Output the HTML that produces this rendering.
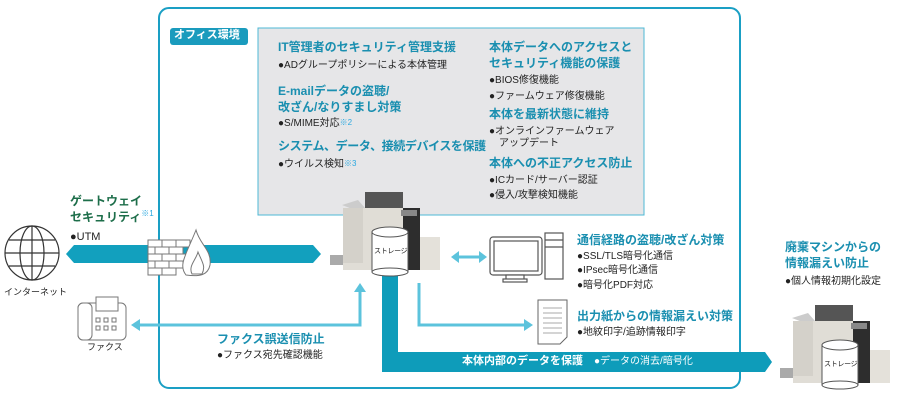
<!DOCTYPE html>
<html><head><meta charset="utf-8"><style>
body{margin:0;width:900px;height:400px;background:#fff;position:relative;overflow:hidden;font-family:"Liberation Sans","Noto Sans CJK JP",sans-serif;}
.t{position:absolute;white-space:nowrap;font-size:10px;color:#222;line-height:1.2}
.h{position:absolute;white-space:nowrap;font-size:12px;font-weight:bold;color:#1a8fb0;line-height:1.35}
.n{color:#2aa8e0;font-size:8px;vertical-align:top;font-weight:normal}
</style></head><body>
<svg width="900" height="400" style="position:absolute;left:0;top:0">
<rect x="159" y="8" width="581" height="380" rx="10" fill="none" stroke="#1a9fc4" stroke-width="2"/>
<rect x="258" y="28" width="386" height="187" fill="#e6e6e8" stroke="#4db8d6" stroke-width="1"/>
<rect x="170" y="28" width="78" height="17" rx="3" fill="#1a9bbd"/>
<polygon points="66,254 74,245 313,245 321,254 313,263 74,263" fill="#12a0be"/>
<g stroke="#777" stroke-width="1" fill="#fff">
<rect x="148" y="240" width="14" height="7"/><rect x="162" y="240" width="14" height="7"/><rect x="176" y="240" width="14" height="7"/>
<rect x="148" y="247" width="7" height="7"/><rect x="155" y="247" width="14" height="7"/><rect x="169" y="247" width="14" height="7"/>
<rect x="148" y="254" width="14" height="7"/><rect x="162" y="254" width="14" height="7"/><rect x="176" y="254" width="14" height="7"/>
<rect x="148" y="261" width="7" height="7"/><rect x="155" y="261" width="14" height="7"/><rect x="169" y="261" width="14" height="7"/>
<rect x="148" y="268" width="14" height="7"/><rect x="162" y="268" width="14" height="7"/>
<path d="M186,275 C178,265 186,255 196,230 C200,245 212,250 210,265 C208,275 200,277 186,275Z"/>
<path d="M192,274 C188,266 196,260 198,252 C202,262 206,266 202,274Z"/>
</g>
<g stroke="#333" stroke-width="1.2" fill="none">
<circle cx="32" cy="253" r="27"/><ellipse cx="32" cy="253" rx="12" ry="27"/><line x1="32" y1="226" x2="32" y2="280"/>
<line x1="5" y1="253" x2="59" y2="253"/><path d="M9,240 H55 M9,266 H55"/>
</g>
<g stroke="#777" stroke-width="1" fill="#fff">
<rect x="78" y="303" width="48" height="37" rx="5"/><rect x="78" y="303" width="14" height="37" rx="5"/>
<rect x="96" y="297" width="22" height="14"/>
<rect x="96" y="318" width="4" height="4"/><rect x="104" y="318" width="4" height="4"/><rect x="112" y="318" width="4" height="4"/>
<rect x="96" y="326" width="4" height="4"/><rect x="104" y="326" width="4" height="4"/><rect x="112" y="326" width="4" height="4"/>
</g>
<g stroke="#5cc3dc" stroke-width="3" fill="none">
<polyline points="360,290 360,325 138,325"/>
<polyline points="419,283 419,325 526,325"/>
<line x1="456" y1="257" x2="482" y2="257"/>
</g>
<g fill="#5cc3dc">
<polygon points="360,283 354,292 366,292"/><polygon points="131,325 140,319 140,331"/>
<polygon points="533,325 524,319 524,331"/><polygon points="451,257 459,251 459,263"/><polygon points="487,257 479,251 479,263"/>
</g>
<polygon points="382,273 398,273 398,352 765,352 772,362 765,372 382,372" fill="#0e9cba"/>
<g>
<rect x="365" y="192" width="38" height="16" fill="#555"/>
<polygon points="342,205 358,200 365,208 360,212" fill="#ccc"/>
<rect x="343" y="208" width="62" height="62" fill="#e0ddd6"/>
<rect x="343" y="208" width="20" height="55" fill="#d4d1ca"/>
<rect x="403" y="208" width="17" height="62" fill="#2d2d2d"/>
<rect x="401" y="210" width="16" height="6" fill="#888"/>
<rect x="420" y="237" width="20" height="33" fill="#e4e1da"/>
<rect x="330" y="255" width="13" height="10" fill="#aaa"/>
<rect x="372" y="232" width="36" height="40" fill="#fff" stroke="#555"/>
<ellipse cx="390" cy="232" rx="18" ry="5" fill="#fff" stroke="#555"/>
<ellipse cx="390" cy="272" rx="18" ry="4" fill="#fff" stroke="#555"/>
</g>
<g transform="translate(450,113)">
<rect x="365" y="192" width="38" height="16" fill="#555"/>
<polygon points="342,205 358,200 365,208 360,212" fill="#ccc"/>
<rect x="343" y="208" width="62" height="62" fill="#e0ddd6"/>
<rect x="343" y="208" width="20" height="55" fill="#d4d1ca"/>
<rect x="403" y="208" width="17" height="62" fill="#2d2d2d"/>
<rect x="401" y="210" width="16" height="6" fill="#888"/>
<rect x="420" y="237" width="20" height="33" fill="#e4e1da"/>
<rect x="330" y="255" width="13" height="10" fill="#aaa"/>
<rect x="372" y="232" width="36" height="40" fill="#fff" stroke="#555"/>
<ellipse cx="390" cy="232" rx="18" ry="5" fill="#fff" stroke="#555"/>
<ellipse cx="390" cy="272" rx="18" ry="4" fill="#fff" stroke="#555"/>
</g>
<g stroke="#555" stroke-width="1.2" fill="#fff">
<rect x="490" y="237" width="52" height="38" rx="3"/><rect x="494" y="241" width="44" height="30"/>
<rect x="506" y="275" width="18" height="5"/><rect x="503" y="279" width="24" height="3"/>
<rect x="545" y="233" width="18" height="46"/><line x1="545" y1="240" x2="563" y2="240"/><line x1="545" y1="247" x2="563" y2="247"/>
</g>
<g stroke="#666" stroke-width="1" fill="#fff">
<path d="M538,300 H567 V337 L560,344 H538 Z"/>
<g stroke="#aaa"><line x1="543" y1="308" x2="562" y2="308"/><line x1="543" y1="313" x2="562" y2="313"/><line x1="543" y1="318" x2="562" y2="318"/><line x1="543" y1="323" x2="562" y2="323"/><line x1="543" y1="328" x2="562" y2="328"/><line x1="543" y1="333" x2="562" y2="333"/></g>
</g>
</svg>
<div class="t" style="left:374px;top:248px;font-size:7px;letter-spacing:-0.3px">ストレージ</div>
<div class="t" style="left:824px;top:361px;font-size:7px;letter-spacing:-0.3px">ストレージ</div>
<div class="t" style="left:174px;top:29px;color:#fff;font-weight:bold;font-size:11px">オフィス環境</div>

<div class="h" style="left:278px;top:39px">IT管理者のセキュリティ管理支援</div>
<div class="t" style="left:278px;top:60px">●ADグループポリシーによる本体管理</div>
<div class="h" style="left:278px;top:83px">E-mailデータの盗聴/<br>改ざん/なりすまし対策</div>
<div class="t" style="left:278px;top:118px">●S/MIME対応<span class="n">※2</span></div>
<div class="h" style="left:278px;top:138px;letter-spacing:-0.4px">システム、データ、接続デバイスを保護</div>
<div class="t" style="left:278px;top:159px">●ウイルス検知<span class="n">※3</span></div>

<div class="h" style="left:489px;top:39px">本体データへのアクセスと<br>セキュリティ機能の保護</div>
<div class="t" style="left:489px;top:75px">●BIOS修復機能</div>
<div class="t" style="left:489px;top:91px">●ファームウェア修復機能</div>
<div class="h" style="left:489px;top:106px">本体を最新状態に維持</div>
<div class="t" style="left:489px;top:126px">●オンラインファームウェア<br>　アップデート</div>
<div class="h" style="left:489px;top:155px">本体への不正アクセス防止</div>
<div class="t" style="left:489px;top:175px">●ICカード/サーバー認証</div>
<div class="t" style="left:489px;top:190px">●侵入/攻撃検知機能</div>

<div class="h" style="left:70px;top:193px;color:#1d6e4a">ゲートウェイ<br>セキュリティ<span class="n">※1</span></div>
<div class="t" style="left:70px;top:231px;font-size:11px">●UTM</div>
<div class="t" style="left:4px;top:287px;font-size:9px">インターネット</div>
<div class="t" style="left:87px;top:342px;font-size:9px">ファクス</div>
<div class="h" style="left:217px;top:331px">ファクス誤送信防止</div>
<div class="t" style="left:217px;top:350px">●ファクス宛先確認機能</div>

<div class="h" style="left:577px;top:232px">通信経路の盗聴/改ざん対策</div>
<div class="t" style="left:577px;top:251px">●SSL/TLS暗号化通信</div>
<div class="t" style="left:577px;top:265px">●IPsec暗号化通信</div>
<div class="t" style="left:577px;top:280px">●暗号化PDF対応</div>
<div class="h" style="left:577px;top:308px">出力紙からの情報漏えい対策</div>
<div class="t" style="left:577px;top:327px">●地紋印字/追跡情報印字</div>

<div class="t" style="left:462px;top:355px;color:#fff;font-weight:bold;font-size:11px">本体内部のデータを保護　<span style="font-weight:normal;font-size:10px">●データの消去/暗号化</span></div>

<div class="h" style="left:785px;top:239px">廃棄マシンからの<br>情報漏えい防止</div>
<div class="t" style="left:785px;top:276px">●個人情報初期化設定</div>
</body></html>
